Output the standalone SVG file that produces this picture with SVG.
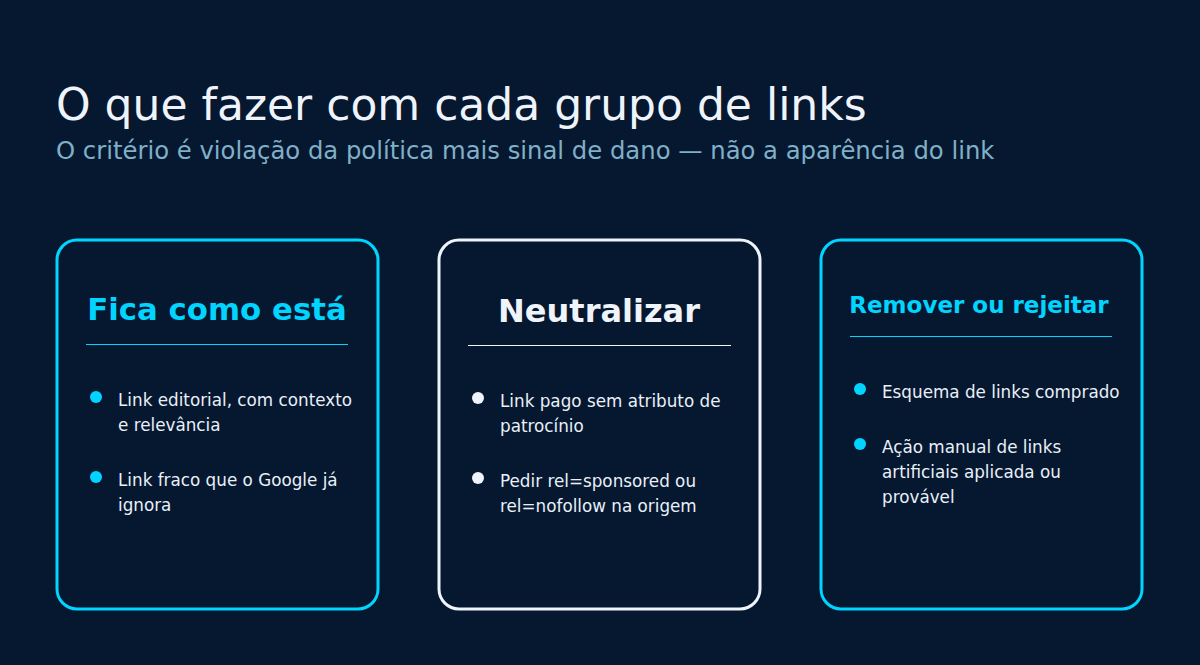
<svg xmlns="http://www.w3.org/2000/svg" width="1200" height="665" viewBox="0 0 1200 665">
<style>
text{font-family:"DejaVu Sans",sans-serif}
.card{fill:#061730;stroke-width:3}
.b{font-size:16.8px;fill:#e8f0f8}
.h{font-weight:bold;text-anchor:middle}
</style>
<rect width="1200" height="665" fill="#061730"/>
<text x="56" y="120" font-size="44" fill="#eef4fa">O que fazer com cada grupo de links</text>
<text x="56" y="159" font-size="24.3" fill="#7fb0c8">O critério é violação da política mais sinal de dano — não a aparência do link</text>
<g id="card1">
<rect class="card" x="57" y="240" width="321" height="369" rx="20" stroke="#00d4ff"/>
<text class="h" x="217" y="320" font-size="30.8" fill="#00d4ff">Fica como está</text>
<line x1="86" y1="344.5" x2="348" y2="344.5" stroke="#00d4ff" stroke-width="1"/>
<circle cx="96" cy="397" r="6" fill="#00d4ff"/>
<text class="b" x="118" y="406">Link editorial, com contexto</text>
<text class="b" x="118" y="431">e relevância</text>
<circle cx="96" cy="477" r="6" fill="#00d4ff"/>
<text class="b" x="118" y="486">Link fraco que o Google já</text>
<text class="b" x="118" y="511">ignora</text>
</g>
<g id="card2">
<rect class="card" x="439" y="240" width="321" height="369" rx="20" stroke="#eef4fa"/>
<text class="h" x="599" y="322" font-size="32" fill="#eef4fa">Neutralizar</text>
<line x1="468" y1="345.5" x2="731" y2="345.5" stroke="#eef4fa" stroke-width="1"/>
<circle cx="478" cy="398" r="6" fill="#eef4fa"/>
<text class="b" x="500" y="407">Link pago sem atributo de</text>
<text class="b" x="500" y="432">patrocínio</text>
<circle cx="478" cy="478" r="6" fill="#eef4fa"/>
<text class="b" x="500" y="487">Pedir rel=sponsored ou</text>
<text class="b" x="500" y="512">rel=nofollow na origem</text>
</g>
<g id="card3">
<rect class="card" x="821" y="240" width="321" height="369" rx="20" stroke="#00d4ff"/>
<text class="h" x="979" y="313" font-size="23" fill="#00d4ff">Remover ou rejeitar</text>
<line x1="850" y1="336.5" x2="1112" y2="336.5" stroke="#00d4ff" stroke-width="1"/>
<circle cx="860" cy="389" r="6" fill="#00d4ff"/>
<text class="b" x="882" y="398">Esquema de links comprado</text>
<circle cx="860" cy="444" r="6" fill="#00d4ff"/>
<text class="b" x="882" y="453">Ação manual de links</text>
<text class="b" x="882" y="478">artificiais aplicada ou</text>
<text class="b" x="882" y="503">provável</text>
</g>
<g id="connectors"/>
</svg>
